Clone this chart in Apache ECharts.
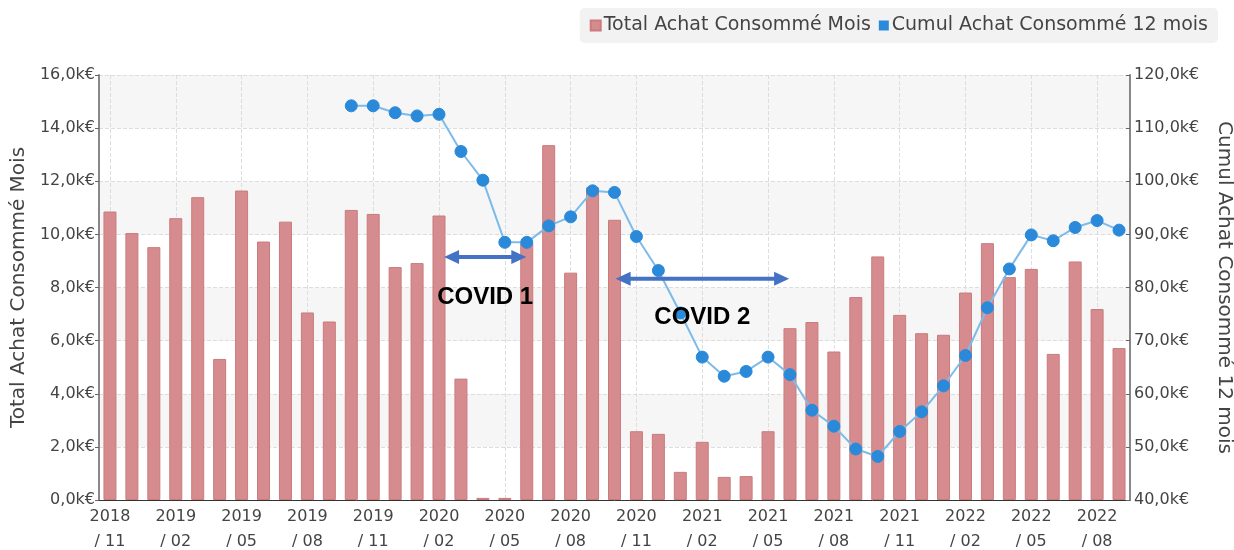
<!DOCTYPE html>
<html>
<head>
<meta charset="utf-8">
<script src="https://cdn.jsdelivr.net/npm/echarts@6/dist/echarts.min.js"></script>
<style>
  html, body { margin: 0; padding: 0; background: #fff; }
  #chart { width: 1234px; height: 550px; }
</style>
</head>
<body>
<div id="chart"></div>
<script>
// months shown on the x axis
const months = [
  '2018/11', '2018/12', '2019/01', '2019/02', '2019/03', '2019/04', '2019/05', '2019/06',
  '2019/07', '2019/08', '2019/09', '2019/10', '2019/11', '2019/12', '2020/01', '2020/02',
  '2020/03', '2020/04', '2020/05', '2020/06', '2020/07', '2020/08', '2020/09', '2020/10',
  '2020/11', '2020/12', '2021/01', '2021/02', '2021/03', '2021/04', '2021/05', '2021/06',
  '2021/07', '2021/08', '2021/09', '2021/10', '2021/11', '2021/12', '2022/01', '2022/02',
  '2022/03', '2022/04', '2022/05', '2022/06', '2022/07', '2022/08', '2022/09',
];

// monthly purchases, k€
const totalMois = [
  10.86, 10.05, 9.52, 10.61, 11.40, 5.31, 11.65, 9.73,
  10.48, 7.06, 6.72, 10.92, 10.77, 8.77, 8.92, 10.71,
  4.57, 0.08, 0.08, 9.67, 13.36, 8.56, 11.77, 10.55,
  2.59, 2.49, 1.06, 2.19, 0.87, 0.90, 2.59, 6.47,
  6.70, 5.59, 7.64, 9.17, 6.97, 6.28, 6.22, 7.81,
  9.67, 8.39, 8.70, 5.50, 8.98, 7.19, 5.72,
];

// rolling 12 months, k€
const cumul12 = [
  null, null, null, null, null, null, null, null,
  null, null, null, 114.2, 114.2, 112.9, 112.3, 112.6,
  105.6, 100.2, 88.5, 88.5, 91.6, 93.3, 98.2, 97.9,
  89.6, 83.2, 75.2, 66.9, 63.3, 64.2, 66.9, 63.6,
  56.9, 53.9, 49.6, 48.2, 52.9, 56.6, 61.5, 67.2,
  76.2, 83.5, 89.9, 88.8, 91.3, 92.6, 90.8,
];

// annotations: [label, from index, to index, level k€ (left axis), label offset]
const covidNotes = [
  ['COVID 1', 15.23, 18.98, 9.15, 40],
  ['COVID 2', 23.05, 30.96, 8.33, 39],
];

const fmtK = (v) => v.toFixed(1).replace('.', ',') + 'k€';
const axisFont = 'DejaVu Sans';

const chart = echarts.init(document.getElementById('chart'));

chart.setOption({
  animation: false,
  textStyle: { fontFamily: axisFont },
  grid: {
    left: 99, right: 104, top: 75, bottom: 50,
    containLabel: false, outerBoundsMode: 'none',
  },
  legend: {
    right: 16,
    top: 8,
    padding: [8, 10, 8, 10],
    itemGap: 8,
    itemWidth: 10,
    itemHeight: 10,
    backgroundColor: '#f2f2f2',
    borderRadius: 5,
    textStyle: { fontSize: 19, color: '#444', padding: [0, 0, 0, -2] },
    data: [
      { name: 'Total Achat Consommé Mois', icon: 'rect' },
      { name: 'Cumul Achat Consommé 12 mois', icon: 'rect' },
    ],
  },
  xAxis: {
    type: 'category',
    data: months,
    boundaryGap: true,
    axisLine: { lineStyle: { color: '#333', width: 1 } },
    axisTick: { interval: 2, alignWithLabel: true, length: 4, lineStyle: { color: '#999' } },
    axisLabel: {
      interval: 2,
      fontSize: 16,
      color: '#444',
      lineHeight: 25,
      margin: 4,
      formatter: (v) => v.replace('/', '\n/ '),
    },
    splitLine: {
      show: true,
      interval: 2,
      alignWithLabel: true,
      lineStyle: { color: '#ddd', type: 'dashed' },
    },
  },
  yAxis: [
    {
      type: 'value',
      min: 0,
      max: 16,
      interval: 2,
      name: 'Total Achat Consommé Mois',
      nameLocation: 'middle',
      nameGap: 70,
      nameTextStyle: { fontSize: 20, color: '#444' },
      axisLine: { show: true, lineStyle: { color: '#888', width: 2 } },
      axisTick: { show: true, length: 4, lineStyle: { color: '#666' } },
      axisLabel: { fontSize: 16, color: '#444', margin: 4, formatter: fmtK },
      splitLine: { lineStyle: { color: '#ddd', type: 'dashed' } },
      splitArea: { show: true, areaStyle: { color: ['#ffffff', '#f6f6f6'] } },
    },
    {
      type: 'value',
      min: 40,
      max: 120,
      interval: 10,
      name: 'Cumul Achat Consommé 12 mois',
      nameLocation: 'middle',
      nameRotate: -90,
      nameGap: 84,
      nameTextStyle: { fontSize: 20, color: '#444' },
      axisLine: { show: true, lineStyle: { color: '#888', width: 2 } },
      axisTick: { show: true, length: 4, inside: true, lineStyle: { color: '#666' } },
      axisLabel: { fontSize: 16, color: '#444', margin: 4, formatter: fmtK },
      splitLine: { show: false },
    },
  ],
  series: [
    {
      name: 'Total Achat Consommé Mois',
      type: 'bar',
      yAxisIndex: 0,
      barWidth: 13,
      itemStyle: { color: '#d68c8e', borderColor: '#c97b7d', borderWidth: 1 },
      data: totalMois,
    },
    {
      name: 'Cumul Achat Consommé 12 mois',
      type: 'line',
      yAxisIndex: 1,
      symbol: 'circle',
      symbolSize: 12,
      connectNulls: false,
      lineStyle: { color: '#7cbbea', width: 2 },
      itemStyle: { color: '#2a8ad9', borderColor: '#2a8ad9' },
      data: cumul12,
    },
  ],
});

// COVID arrows and labels, positioned through the axes
const x0 = chart.convertToPixel({ xAxisIndex: 0 }, 0);
const x1 = chart.convertToPixel({ xAxisIndex: 0 }, 1);
const xAt = (f) => x0 + f * (x1 - x0);
const arrowColor = '#4472c4';
const head = 15;
const halfW = 7;

const elements = [];
covidNotes.forEach(([label, from, to, level, dy]) => {
  const xa = xAt(from);
  const xb = xAt(to);
  const y = chart.convertToPixel({ yAxisIndex: 0 }, level);
  elements.push({
    type: 'line',
    shape: { x1: xa + head - 2, y1: y, x2: xb - head + 2, y2: y },
    style: { stroke: arrowColor, lineWidth: 4 },
    z: 100,
  });
  elements.push({
    type: 'polygon',
    shape: { points: [[xa, y], [xa + head, y - halfW], [xa + head, y + halfW]] },
    style: { fill: arrowColor },
    z: 100,
  });
  elements.push({
    type: 'polygon',
    shape: { points: [[xb, y], [xb - head, y - halfW], [xb - head, y + halfW]] },
    style: { fill: arrowColor },
    z: 100,
  });
  elements.push({
    type: 'text',
    x: (xa + xb) / 2,
    y: y + dy,
    style: {
      text: label,
      fill: '#000',
      font: 'bold 24px "Liberation Sans"',
      align: 'center',
      verticalAlign: 'middle',
    },
    z: 100,
  });
});

chart.setOption({ graphic: elements });
</script>
</body>
</html>
